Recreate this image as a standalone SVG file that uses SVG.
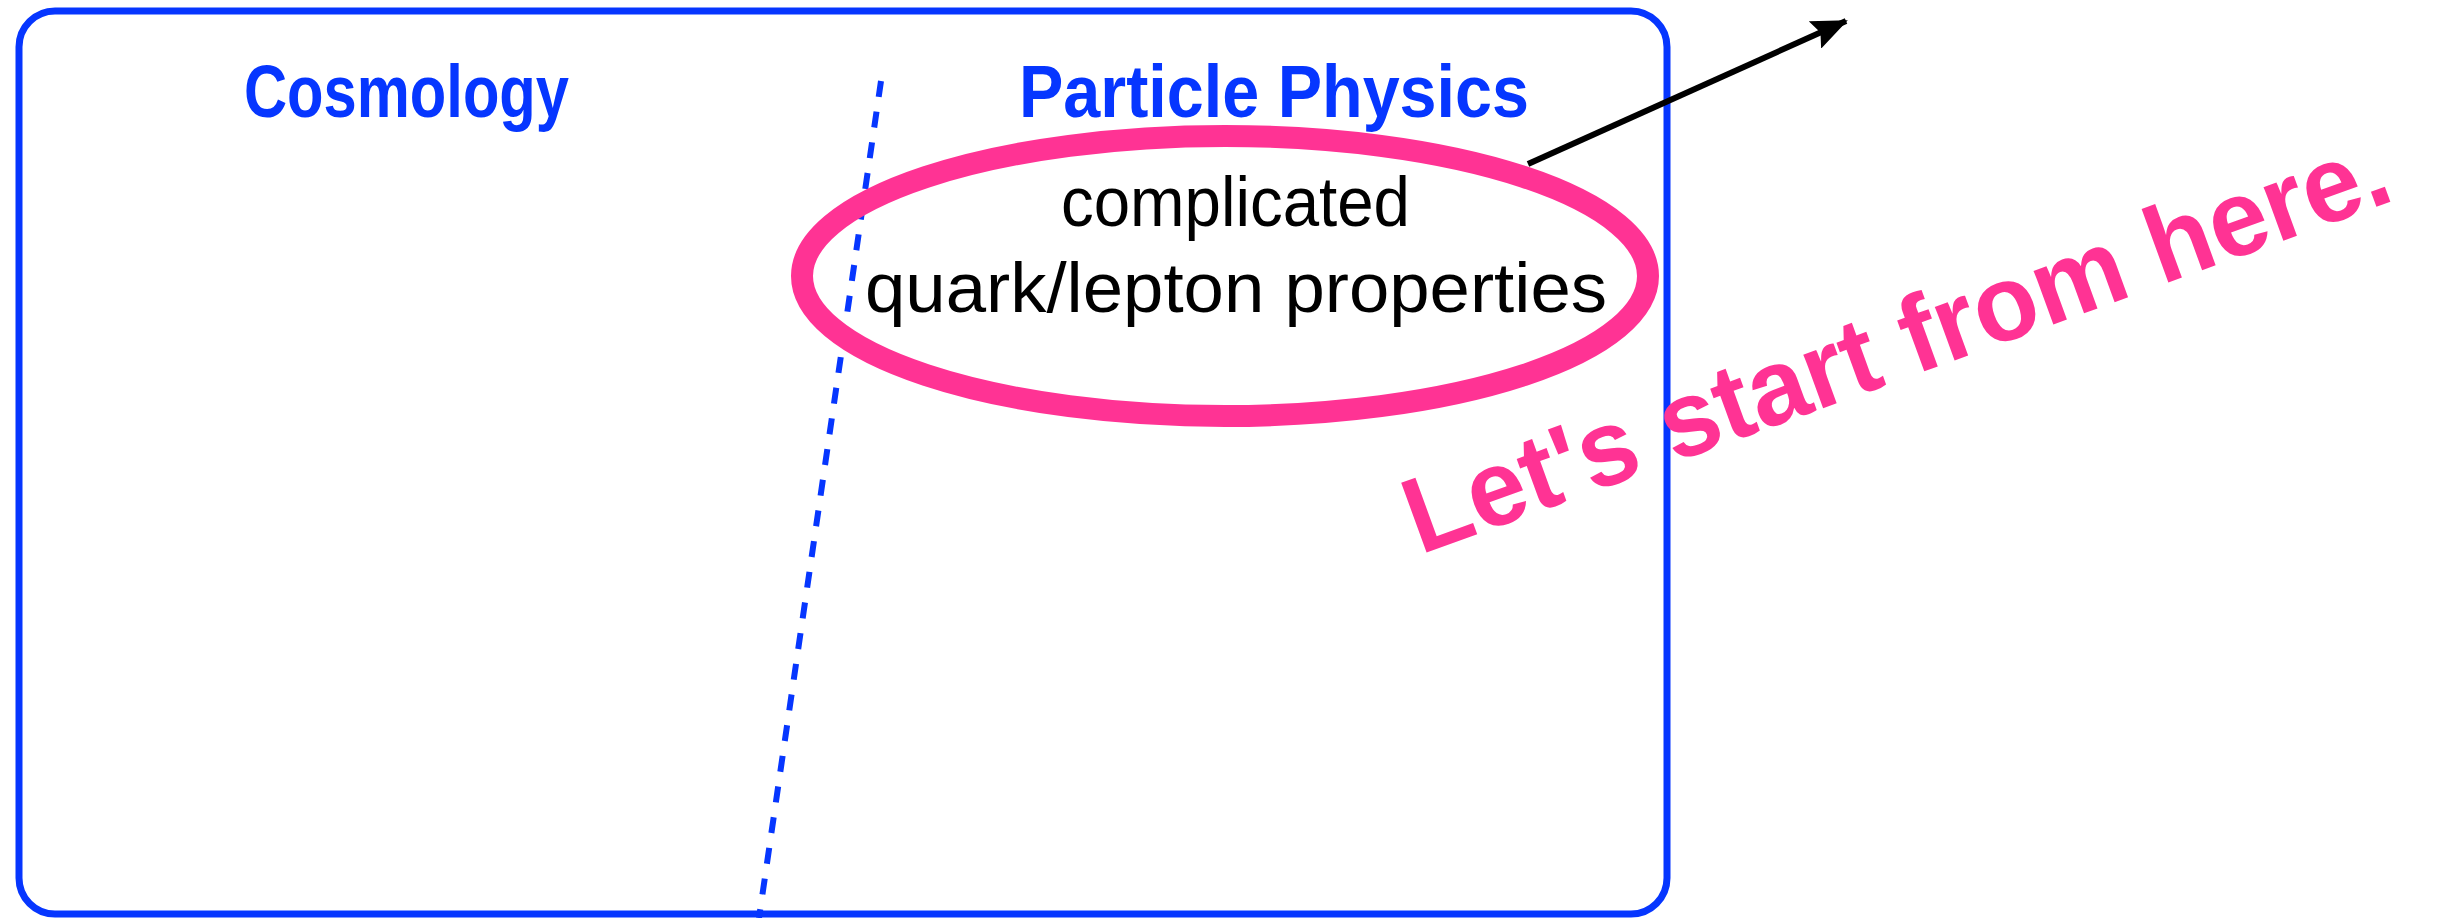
<svg xmlns="http://www.w3.org/2000/svg" width="2442" height="918" viewBox="0 0 2442 918">
<style>
.frame{fill:none;stroke:#0636FF;stroke-width:7}
.head{font-family:"Liberation Sans",Arial,sans-serif;font-weight:bold;font-size:74px;fill:#0636FF}
.body{font-family:"Liberation Sans",Arial,sans-serif;font-size:70px;fill:#000}
.pink{font-family:"Liberation Sans",Arial,sans-serif;font-weight:bold;font-size:108px;fill:#FF3394}
</style>
<defs>
<marker id="ah" markerWidth="36" markerHeight="30" refX="34" refY="15" orient="auto" markerUnits="userSpaceOnUse" viewBox="0 0 36 30">
<path d="M0,0 L36,15 L0,30 L6,15 Z" fill="#000"/>
</marker>
</defs>
<rect width="2442" height="918" fill="#fff"/>
<g id="frame">
<rect class="frame" x="19" y="11" width="1648" height="903" rx="36" ry="36"/>
</g>
<g id="divider">
<line x1="881" y1="81" x2="759" y2="918" stroke="#0636FF" stroke-width="6" stroke-dasharray="16 15"/>
</g>
<g id="cosmology">
<text class="head" x="244" y="117" textLength="325" lengthAdjust="spacingAndGlyphs">Cosmology</text>
</g>
<g id="particle-physics">
<text class="head" x="1019" y="117" textLength="510" lengthAdjust="spacingAndGlyphs">Particle Physics</text>
</g>
<g id="ellipse-node">
<ellipse cx="1225" cy="276" rx="423" ry="140" fill="none" stroke="#FF3394" stroke-width="22"/>
<text class="body" x="1061" y="226" textLength="349" lengthAdjust="spacingAndGlyphs">complicated</text>
<text class="body" x="865" y="312" textLength="742" lengthAdjust="spacingAndGlyphs">quark/lepton properties</text>
</g>
<g id="connectors">
<line x1="1528" y1="164" x2="1846" y2="21" stroke="#000" stroke-width="6" marker-end="url(#ah)"/>
</g>
<g id="note">
<text class="pink" x="1420" y="555" transform="rotate(-20 1420 555)" textLength="1040" lengthAdjust="spacingAndGlyphs">Let's start from here.</text>
</g>
</svg>
